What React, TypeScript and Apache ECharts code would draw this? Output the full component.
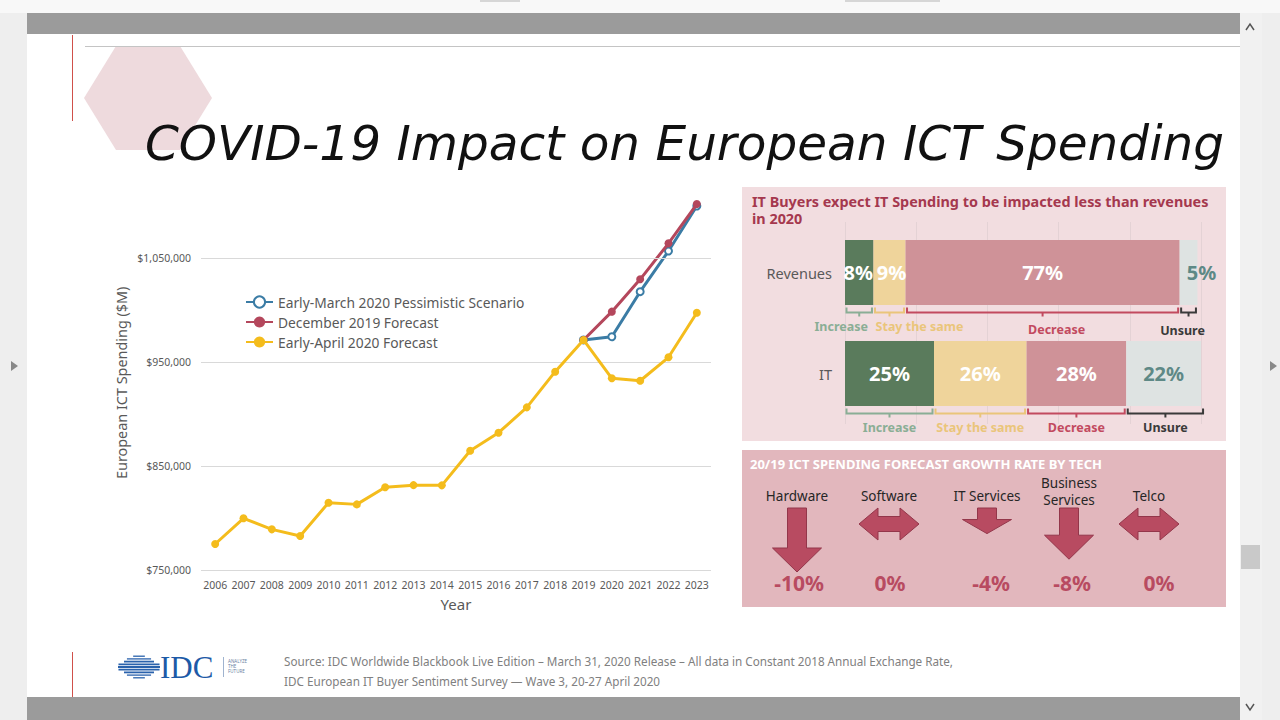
import React, { useEffect, useRef } from 'react';
import * as echarts from 'echarts';

// ---------------- data ----------------
const years = ['2006', '2007', '2008', '2009', '2010', '2011', '2012', '2013', '2014', '2015', '2016', '2017', '2018', '2019', '2020', '2021', '2022', '2023'];
const aprilForecast = [775000, 799700, 789100, 782700, 814700, 813100, 829500, 831600, 831400, 864700, 882000, 906400, 940700, 971200, 934300, 932000, 954500, 997400];
const dec2019Forecast = [null, null, null, null, null, null, null, null, null, null, null, null, null, 971200, 998400, 1029500, 1064100, 1101900];
const marchPessimistic = [null, null, null, null, null, null, null, null, null, null, null, null, null, 971200, 974300, 1017600, 1056700, 1100000];
const yGridValues = [750000, 850000, 950000, 1050000];
const lineNames = ['Early-March 2020 Pessimistic Scenario', 'December 2019 Forecast', 'Early-April 2020 Forecast'];

const sentimentCats = ['Revenues', 'IT'];
const sentimentSegments = ['Increase', 'Stay the same', 'Decrease', 'Unsure'];
const increaseShare = [8, 25];
const staySameShare = [9, 26];
const decreaseShare = [77, 28];
const unsureShare = [5, 22];

const techCats = ['Hardware', 'Software', 'IT Services', 'Business\nServices', 'Telco'];
const techGrowth = [-10, 0, -4, -8, 0];

// ---------------- styling constants ----------------
const FONT = '"Noto Sans", sans-serif';
const GREY = '#595959';
const segColors = ['#5a7b5c', '#efd49b', '#cf9298', '#dee3e2'];
const bracketColors = ['#8aae95', '#eac57a', '#c24a5f', '#3a3a3a'];
const bracketLabelShift: any = [
  [[-18, 0], [30, 0], [14, 3], [-6, 4]],
  [[0, 0], [0, 0], [0, 0], [0, 0]],
];
// label offsets for [Increase, Stay, Decrease, Unsure] on the Revenues row
const revenueLabelOffsets = [[-1, 0], [2, 0], [0, 0], [13, 0]];
const techShift = [0, 4, 14, 8, 0];
const techValueShift = [2, 1, 4, 3, 10];
const ARROW = '#b84b61';

function txt(text: string, x: number, y: number, font: string, fill: string, align = 'left', va = 'middle', extra: any = {}) {
  return {
    type: 'text',
    style: { text, x, y, font, fill, align, textAlign: align, verticalAlign: va, textVerticalAlign: va, ...extra },
  };
}

function buildGraphics() {
  const g: any[] = [];
  // page chrome
  g.push({ type: 'rect', z: -20, shape: { x: 0, y: 0, width: 1280, height: 720 }, style: { fill: '#eeeeee' } });
  g.push({ type: 'rect', z: -19, shape: { x: 0, y: 0, width: 1280, height: 13 }, style: { fill: '#f8f8f8' } });
  g.push({ type: 'rect', z: -19, shape: { x: 480, y: 0, width: 40, height: 2 }, style: { fill: '#d6d6d6' } });
  g.push({ type: 'rect', z: -19, shape: { x: 845, y: 0, width: 95, height: 2 }, style: { fill: '#d6d6d6' } });
  g.push({ type: 'rect', z: -19, shape: { x: 27, y: 13, width: 1213, height: 21 }, style: { fill: '#9b9b9b' } });
  g.push({ type: 'rect', z: -19, shape: { x: 27, y: 34, width: 1213, height: 663 }, style: { fill: '#ffffff' } });
  g.push({ type: 'rect', z: -19, shape: { x: 27, y: 697, width: 1213, height: 23 }, style: { fill: '#9b9b9b' } });
  g.push({ type: 'rect', z: -19, shape: { x: 1240, y: 13, width: 22, height: 707 }, style: { fill: '#f1f1f1' } });
  g.push({ type: 'rect', z: -18, shape: { x: 1241, y: 545, width: 19, height: 24 }, style: { fill: '#c9c9c9' } });
  g.push({ type: 'polyline', z: -18, shape: { points: [[1246, 30], [1250, 24], [1254, 30]] }, style: { stroke: '#555', lineWidth: 1.5, fill: 'none' } });
  g.push({ type: 'polyline', z: -18, shape: { points: [[1246, 704], [1250, 710], [1254, 704]] }, style: { stroke: '#555', lineWidth: 1.5, fill: 'none' } });
  g.push({ type: 'polygon', z: -18, shape: { points: [[11, 361], [18, 366], [11, 371]] }, style: { fill: '#888' } });
  g.push({ type: 'polygon', z: -18, shape: { points: [[1270, 361], [1277, 366], [1270, 371]] }, style: { fill: '#888' } });

  // slide decorations
  g.push({ type: 'polygon', z: -15, shape: { points: [[84, 98], [116, 46], [180, 46], [212, 98], [180, 150], [116, 150]] }, style: { fill: '#eedadd' } });
  g.push({ type: 'line', z: -14, shape: { x1: 72.5, y1: 35, x2: 72.5, y2: 121 }, style: { stroke: '#d0504a', lineWidth: 1 } });
  g.push({ type: 'line', z: -14, shape: { x1: 72.5, y1: 652, x2: 72.5, y2: 697 }, style: { stroke: '#d0504a', lineWidth: 1 } });
  g.push({ type: 'line', z: -14, shape: { x1: 85, y1: 46.5, x2: 1240, y2: 46.5 }, style: { stroke: '#c4c4c4', lineWidth: 1 } });
  g.push(txt('COVID-19 Impact on European ICT Spending', 145, 143, `italic 200 48.5px "DejaVu Sans", sans-serif`, '#111111'));

  // panels
  g.push({ type: 'rect', z: -10, shape: { x: 742, y: 187, width: 484, height: 254 }, style: { fill: '#f2dde0' } });
  g.push({ type: 'rect', z: -10, shape: { x: 742, y: 450, width: 484, height: 157 }, style: { fill: '#e2b7bd' } });
  g.push(txt('IT Buyers expect IT Spending to be impacted less than revenues\nin 2020', 752, 193, `bold 14.4px ${FONT}`, '#a5384e', 'left', 'top', { lineHeight: 17 }));
  g.push(txt('20/19 ICT SPENDING FORECAST GROWTH RATE BY TECH', 750, 464, `bold 13px ${FONT}`, '#ffffff'));

  // footer
  g.push(txt('Source: IDC Worldwide Blackbook Live Edition – March 31, 2020 Release – All data in Constant 2018 Annual Exchange Rate,', 284, 661, `11.7px ${FONT}`, '#808080'));
  g.push(txt('IDC European IT Buyer Sentiment Survey — Wave 3, 20-27 April 2020', 284, 681, `11.7px ${FONT}`, '#808080'));
  // IDC logo (globe of stripes)
  const cx = 139, cy = 667, rx = 17, ry = 11.5;
  for (let k = -4; k <= 4; k++) {
    const dy = k * 2.7;
    const hw = rx * Math.sqrt(Math.max(0, 1 - (dy / ry) * (dy / ry)));
    const ext = Math.abs(k) <= 1 ? 4 : 0;
    g.push({ type: 'line', shape: { x1: cx - hw - ext, y1: cy + dy, x2: cx + hw + ext, y2: cy + dy }, style: { stroke: '#2a62ac', lineWidth: Math.abs(k) <= 2 ? 1.8 : 1.3 } });
  }
  g.push(txt('IDC', 160, 667, `31px "Liberation Serif", serif`, '#1d5aa7'));
  g.push({ type: 'line', shape: { x1: 223.5, y1: 657, x2: 223.5, y2: 677 }, style: { stroke: '#9fb3cf', lineWidth: 1 } });
  g.push(txt('ANALYZE\nTHE\nFUTURE', 228, 666, `4.5px ${FONT}`, '#6a7f9f', 'left', 'middle', { lineHeight: 5 }));
  return g;
}

function bracketItems() {
  const series = [increaseShare, staySameShare, decreaseShare, unsureShare];
  const out: any[] = [];
  sentimentCats.forEach((_c, i) => {
    let acc = 0;
    series.forEach((arr, j) => {
      out.push([acc, acc + arr[i], i, j]);
      acc += arr[i];
    });
  });
  return out;
}

function renderBracket(_params: any, api: any) {
  const s = api.value(0), e = api.value(1), ci = api.value(2), sj = api.value(3);
  const p0 = api.coord([s, ci]);
  const p1 = api.coord([e, ci]);
  const x0 = p0[0] + 1.5, x1 = p1[0] - 1.5, yL = p0[1] + 40;
  const xm = (x0 + x1) / 2;
  const color = bracketColors[sj];
  const sh = bracketLabelShift[ci][sj];
  return {
    type: 'group',
    children: [
      { type: 'polyline', shape: { points: [[x0, yL - 5], [x0, yL], [x1, yL], [x1, yL - 5]] }, style: { stroke: color, lineWidth: 2, fill: 'none' } },
      { type: 'line', shape: { x1: xm, y1: yL, x2: xm, y2: yL + 4 }, style: { stroke: color, lineWidth: 2 } },
      txt(sentimentSegments[sj], xm + sh[0], yL + 14 + sh[1], `bold 12.5px ${FONT}`, color, 'center', 'middle'),
    ],
  };
}

function renderArrow(_params: any, api: any) {
  const i = api.value(0);
  const v = api.value(1);
  const base = api.coord([i, 0]);
  const tip = api.coord([i, Math.abs(v)]);
  const cx = base[0] + techShift[i];
  const top = base[1];
  const children: any[] = [];
  let pts: number[][];
  if (v === 0) {
    const yc = top + 16;
    pts = [[cx - 30, yc], [cx - 11, yc - 16], [cx - 11, yc - 7.5], [cx + 11, yc - 7.5], [cx + 11, yc - 16], [cx + 30, yc], [cx + 11, yc + 16], [cx + 11, yc + 7.5], [cx - 11, yc + 7.5], [cx - 11, yc + 16]];
  } else {
    const y1 = tip[1];
    const h = Math.min(24, 0.55 * (y1 - top));
    pts = [[cx - 9.5, top], [cx + 9.5, top], [cx + 9.5, y1 - h], [cx + 24.5, y1 - h], [cx, y1], [cx - 24.5, y1 - h], [cx - 9.5, y1 - h]];
  }
  children.push({ type: 'polygon', shape: { points: pts }, style: { fill: ARROW, stroke: '#93364a', lineWidth: 1 } });
  const label = techCats[i];
  const twoLine = label.indexOf('\n') >= 0;
  children.push(txt(label, cx, twoLine ? 491 : 496, `13.5px ${FONT}`, '#262626', 'center', 'middle', { lineHeight: 17 }));
  children.push(txt(`${v}%`, base[0] + techShift[i] + techValueShift[i], 583, `bold 21px ${FONT}`, ARROW, 'center', 'middle'));
  return { type: 'group', children };
}

function buildOption(): any {
  const lineCommon = {
    type: 'line',
    xAxisIndex: 0,
    yAxisIndex: 0,
    lineStyle: { width: 3 },
    connectNulls: false,
  };
  const withRevenueOffset = (arr: number[], j: number) =>
    arr.map((v, i) => (i === 0 ? { value: v, label: { offset: revenueLabelOffsets[j] } } : v));
  const barLabel = (color: string) => ({
    show: true,
    position: 'inside',
    formatter: '{c}%',
    color,
    fontFamily: FONT,
    fontWeight: 'bold',
    fontSize: 20,
  });
  const barSeries = [increaseShare, staySameShare, decreaseShare, unsureShare].map((arr, j) => ({
    type: 'bar',
    name: sentimentSegments[j],
    stack: 'share',
    xAxisIndex: 1,
    yAxisIndex: 1,
    barWidth: 65,
    data: withRevenueOffset(arr, j),
    itemStyle: { color: segColors[j] },
    label: barLabel(j === 3 ? '#5e8986' : '#ffffff'),
  }));
  return {
    animation: false,
    backgroundColor: '#ffffff',
    textStyle: { fontFamily: FONT },
    graphic: buildGraphics(),
    legend: {
      data: lineNames,
      orient: 'vertical',
      left: 240,
      top: 290,
      itemGap: 6,
      itemWidth: 27,
      itemHeight: 14,
      textStyle: { color: GREY, fontSize: 13.8, fontFamily: FONT },
    },
    grid: [
      { left: 201, width: 510, top: 195.6, height: 374.4 },
      { left: 845, width: 356, top: 222, height: 202 },
      { left: 753, width: 440, top: 508, height: 64 },
    ],
    xAxis: [
      {
        gridIndex: 0,
        type: 'category',
        data: years,
        boundaryGap: true,
        axisLine: { show: false },
        axisTick: { show: false },
        axisLabel: { color: GREY, fontSize: 10.5, margin: 9, interval: 0, fontFamily: FONT },
        name: 'Year',
        nameLocation: 'middle',
        nameGap: 26,
        nameTextStyle: { color: GREY, fontSize: 15, fontFamily: FONT },
      },
      {
        gridIndex: 1,
        type: 'value',
        min: 0,
        max: 100,
        interval: 20,
        axisLine: { show: false },
        axisTick: { show: false },
        axisLabel: { show: false },
        splitLine: { show: true, lineStyle: { color: '#e4d2d5', width: 1 } },
      },
      {
        gridIndex: 2,
        type: 'category',
        data: techCats,
        show: false,
      },
    ],
    yAxis: [
      {
        gridIndex: 0,
        type: 'value',
        min: 750000,
        max: 1110000,
        interval: 50000,
        splitLine: { show: false },
        axisLine: { show: false },
        axisTick: { show: false },
        axisLabel: {
          color: GREY,
          fontSize: 10.5,
          margin: 10,
          fontFamily: FONT,
          formatter: (v: number) => (v % 100000 === 50000 ? '$' + v.toLocaleString('en-US') : ''),
        },
        name: 'European ICT Spending ($M)',
        nameLocation: 'middle',
        nameGap: 73,
        nameRotate: 90,
        nameTextStyle: { color: GREY, fontSize: 14.4, fontFamily: FONT },
      },
      {
        gridIndex: 1,
        type: 'category',
        data: sentimentCats,
        inverse: true,
        axisLine: { show: false },
        axisTick: { show: false },
        axisLabel: { color: GREY, fontSize: 14.5, margin: 13, fontFamily: FONT },
      },
      {
        gridIndex: 2,
        type: 'value',
        min: 0,
        max: 10,
        inverse: true,
        show: false,
      },
    ],
    series: [
      {
        name: 'gridlines',
        type: 'line',
        xAxisIndex: 0,
        yAxisIndex: 0,
        data: [],
        z: 1,
        markLine: {
          silent: true,
          symbol: ['none', 'none'],
          label: { show: false },
          lineStyle: { color: '#d9d9d9', width: 1, type: 'solid' },
          data: yGridValues.map((v) => ({ yAxis: v })),
        },
      },
      {
        ...lineCommon,
        name: lineNames[0],
        data: marchPessimistic,
        z: 3,
        color: '#3b7ca5',
        symbol: 'emptyCircle',
        symbolSize: 7,
        itemStyle: { color: '#3b7ca5', borderWidth: 1.5 },
      },
      {
        ...lineCommon,
        name: lineNames[1],
        data: dec2019Forecast,
        z: 4,
        color: '#b4475c',
        symbol: 'circle',
        symbolSize: 8,
      },
      {
        ...lineCommon,
        name: lineNames[2],
        data: aprilForecast,
        z: 5,
        color: '#f4bc1c',
        symbol: 'circle',
        symbolSize: 8,
      },
      ...barSeries,
      {
        type: 'custom',
        name: 'brackets',
        xAxisIndex: 1,
        yAxisIndex: 1,
        encode: { x: [0, 1], y: 2 },
        clip: false,
        z: 5,
        data: bracketItems(),
        renderItem: renderBracket,
      },
      {
        type: 'custom',
        name: 'growth',
        xAxisIndex: 2,
        yAxisIndex: 2,
        encode: { x: 0, y: 1 },
        clip: false,
        z: 5,
        data: techGrowth.map((v, i) => [i, v]),
        renderItem: renderArrow,
      },
    ],
  };
}

export default function App() {
  const ref = useRef<HTMLDivElement>(null);
  useEffect(() => {
    const chart = echarts.init(ref.current as HTMLDivElement, null, { renderer: 'svg' });
    chart.setOption(buildOption());
    return () => chart.dispose();
  }, []);
  return <div ref={ref} style={{ position: 'absolute', left: 0, top: 0, width: 1280, height: 720 }} />;
}
